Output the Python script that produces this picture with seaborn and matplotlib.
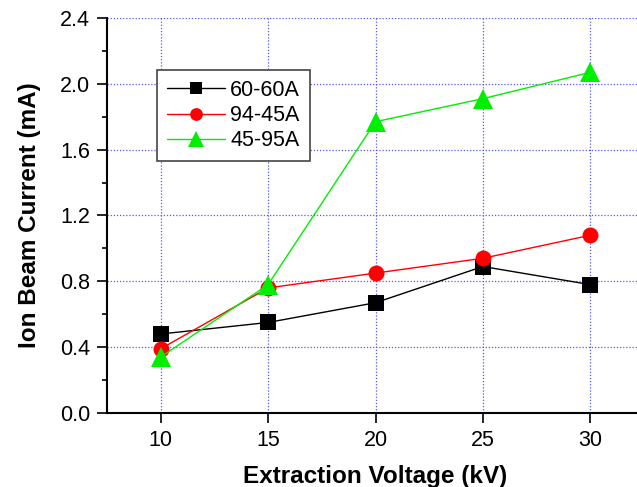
import pandas as pd
import matplotlib
matplotlib.use("Agg")
import matplotlib.pyplot as plt
from matplotlib.ticker import MultipleLocator, FormatStrFormatter
import seaborn as sns

# ==========================================
# Data
# ==========================================
voltage = [10, 15, 20, 25, 30]
current_60_60 = [0.48, 0.55, 0.67, 0.89, 0.78]
current_94_45 = [0.39, 0.76, 0.85, 0.94, 1.08]
current_45_95 = [0.34, 0.78, 1.77, 1.91, 2.07]
series_names = ["60-60A", "94-45A", "45-95A"]

frames = []
for name, values in zip(series_names, [current_60_60, current_94_45, current_45_95]):
    frames.append(pd.DataFrame({"voltage": voltage, "current": values, "series": name}))
data = pd.concat(frames, ignore_index=True)

sns.set_style("ticks")
plt.rcParams["font.family"] = ["Liberation Sans", "DejaVu Sans"]
for key in ["text.color", "axes.labelcolor", "xtick.color", "ytick.color", "axes.edgecolor"]:
    plt.rcParams[key] = "black"

fig = plt.figure(figsize=(6.37, 4.87), dpi=100)
ax = fig.add_axes([0.168, 0.152, 0.843, 0.811])

sns.lineplot(
    data=data,
    x="voltage",
    y="current",
    hue="series",
    style="series",
    palette={"60-60A": "black", "94-45A": "red", "45-95A": "#00ee00"},
    markers={"60-60A": "s", "94-45A": "o", "45-95A": "^"},
    dashes=False,
    linewidth=1,
    markersize=11,
    markeredgewidth=0,
    ax=ax,
)

# marker sizes per series
for line in ax.lines:
    if line.get_marker() == "^":
        line.set_markersize(14)
    elif line.get_marker() == "o":
        line.set_markersize(11.5)

ax.set_xlim(7.5, 32.5)
ax.set_ylim(0, 2.4)
ax.xaxis.set_major_locator(MultipleLocator(5))
ax.yaxis.set_major_locator(MultipleLocator(0.4))
ax.yaxis.set_minor_locator(MultipleLocator(0.2))
ax.yaxis.set_major_formatter(FormatStrFormatter("%.1f"))

ax.grid(True, which="major", color="#5555ff", linestyle=(0, (1, 1.5)), linewidth=0.9)
ax.set_axisbelow(True)

sns.despine(ax=ax, top=True, right=True)
ax.spines["left"].set_linewidth(1.5)
ax.spines["bottom"].set_linewidth(1.5)
ax.tick_params(axis="both", which="major", direction="out", length=7, width=1.2,
               labelsize=15.5, pad=5)
ax.tick_params(axis="y", which="minor", direction="out", length=3.5, width=1.2)

ax.set_xlabel("Extraction Voltage (kV)", fontsize=17.5, fontweight="bold", labelpad=10)
ax.set_ylabel("Ion Beam Current (mA)", fontsize=17.5, fontweight="bold", labelpad=14)

leg = ax.legend(
    loc="upper left",
    bbox_to_anchor=(0.093, 0.868),
    borderaxespad=0,
    fontsize=15.5,
    frameon=True,
    fancybox=False,
    handlelength=2.7,
    handletextpad=0.25,
    borderpad=0.45,
    labelspacing=0.2,
    markerscale=0.8,
)
leg.get_frame().set_edgecolor("#444444")
leg.get_frame().set_linewidth(1.2)
leg.get_frame().set_alpha(1)

fig.savefig("out.png", dpi=100)
